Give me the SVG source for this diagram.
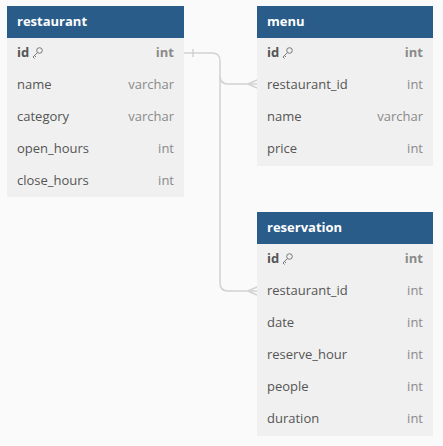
<svg xmlns="http://www.w3.org/2000/svg" width="443" height="446" viewBox="0 0 443 446">
<style>
.bg{fill:#fafafa}
.body{fill:#f0f0f0}
.head{fill:#2a5c8a}
.title{font-family:"Open Sans",sans-serif;font-size:13px;font-weight:bold;fill:#ffffff}
.f{font-family:"Open Sans",sans-serif;font-size:13px;fill:#555555}
.fb{font-family:"Open Sans",sans-serif;font-size:13px;font-weight:bold;fill:#555555}
.t{font-family:"Open Sans",sans-serif;font-size:13px;fill:#8a8a8a;text-anchor:end}
.tb{font-family:"Open Sans",sans-serif;font-size:13px;font-weight:bold;fill:#8a8a8a;text-anchor:end}
.key{fill:none;stroke:#777777;stroke-width:1}
.conn{fill:none;stroke:#d2d2d2;stroke-width:1.5}
</style>
<defs>
<g id="keyicon">
<circle cx="5.5" cy="-2.5" r="2.8" class="key"/>
<path d="M3.5 -0.5 L-1 4 L0.5 5.5 M0.5 2.5 L2 4" class="key"/>
</g>
</defs>
<rect class="bg" x="0" y="0" width="443" height="446"/>
<g id="connectors">
<path class="conn" d="M184 53 H212 Q220 53 220 61 V76 Q220 84 228 84 H257"/>
<path class="conn" d="M220 76 V283 Q220 291 228 291 H257"/>
<path class="conn" d="M193 49 V57"/>
<path class="conn" d="M248 84 L257 80 M248 84 L257 88"/>
<path class="conn" d="M248 291 L257 287 M248 291 L257 295"/>
</g>
<g id="restaurant">
<rect class="body" x="7" y="6" width="177" height="191"/>
<rect class="head" x="7" y="6" width="177" height="32"/>
<text class="title" x="17" y="26">restaurant</text>
<text class="fb" x="17" y="57">id</text><use href="#keyicon" x="34" y="53"/><text class="tb" x="174" y="57">int</text>
<text class="f" x="17" y="89">name</text><text class="t" x="174" y="89">varchar</text>
<text class="f" x="17" y="121">category</text><text class="t" x="174" y="121">varchar</text>
<text class="f" x="17" y="153">open_hours</text><text class="t" x="174" y="153">int</text>
<text class="f" x="17" y="185">close_hours</text><text class="t" x="174" y="185">int</text>
</g>
<g id="menu">
<rect class="body" x="257" y="6" width="176" height="160"/>
<rect class="head" x="257" y="6" width="176" height="32"/>
<text class="title" x="267" y="26">menu</text>
<text class="fb" x="267" y="57">id</text><use href="#keyicon" x="284" y="53"/><text class="tb" x="423" y="57">int</text>
<text class="f" x="267" y="89">restaurant_id</text><text class="t" x="423" y="89">int</text>
<text class="f" x="267" y="121">name</text><text class="t" x="423" y="121">varchar</text>
<text class="f" x="267" y="153">price</text><text class="t" x="423" y="153">int</text>
</g>
<g id="reservation">
<rect class="body" x="257" y="212" width="176" height="224"/>
<rect class="head" x="257" y="212" width="176" height="32"/>
<text class="title" x="267" y="232">reservation</text>
<text class="fb" x="267" y="263">id</text><use href="#keyicon" x="284" y="259"/><text class="tb" x="423" y="263">int</text>
<text class="f" x="267" y="295">restaurant_id</text><text class="t" x="423" y="295">int</text>
<text class="f" x="267" y="327">date</text><text class="t" x="423" y="327">int</text>
<text class="f" x="267" y="359">reserve_hour</text><text class="t" x="423" y="359">int</text>
<text class="f" x="267" y="391">people</text><text class="t" x="423" y="391">int</text>
<text class="f" x="267" y="423">duration</text><text class="t" x="423" y="423">int</text>
</g>
</svg>
